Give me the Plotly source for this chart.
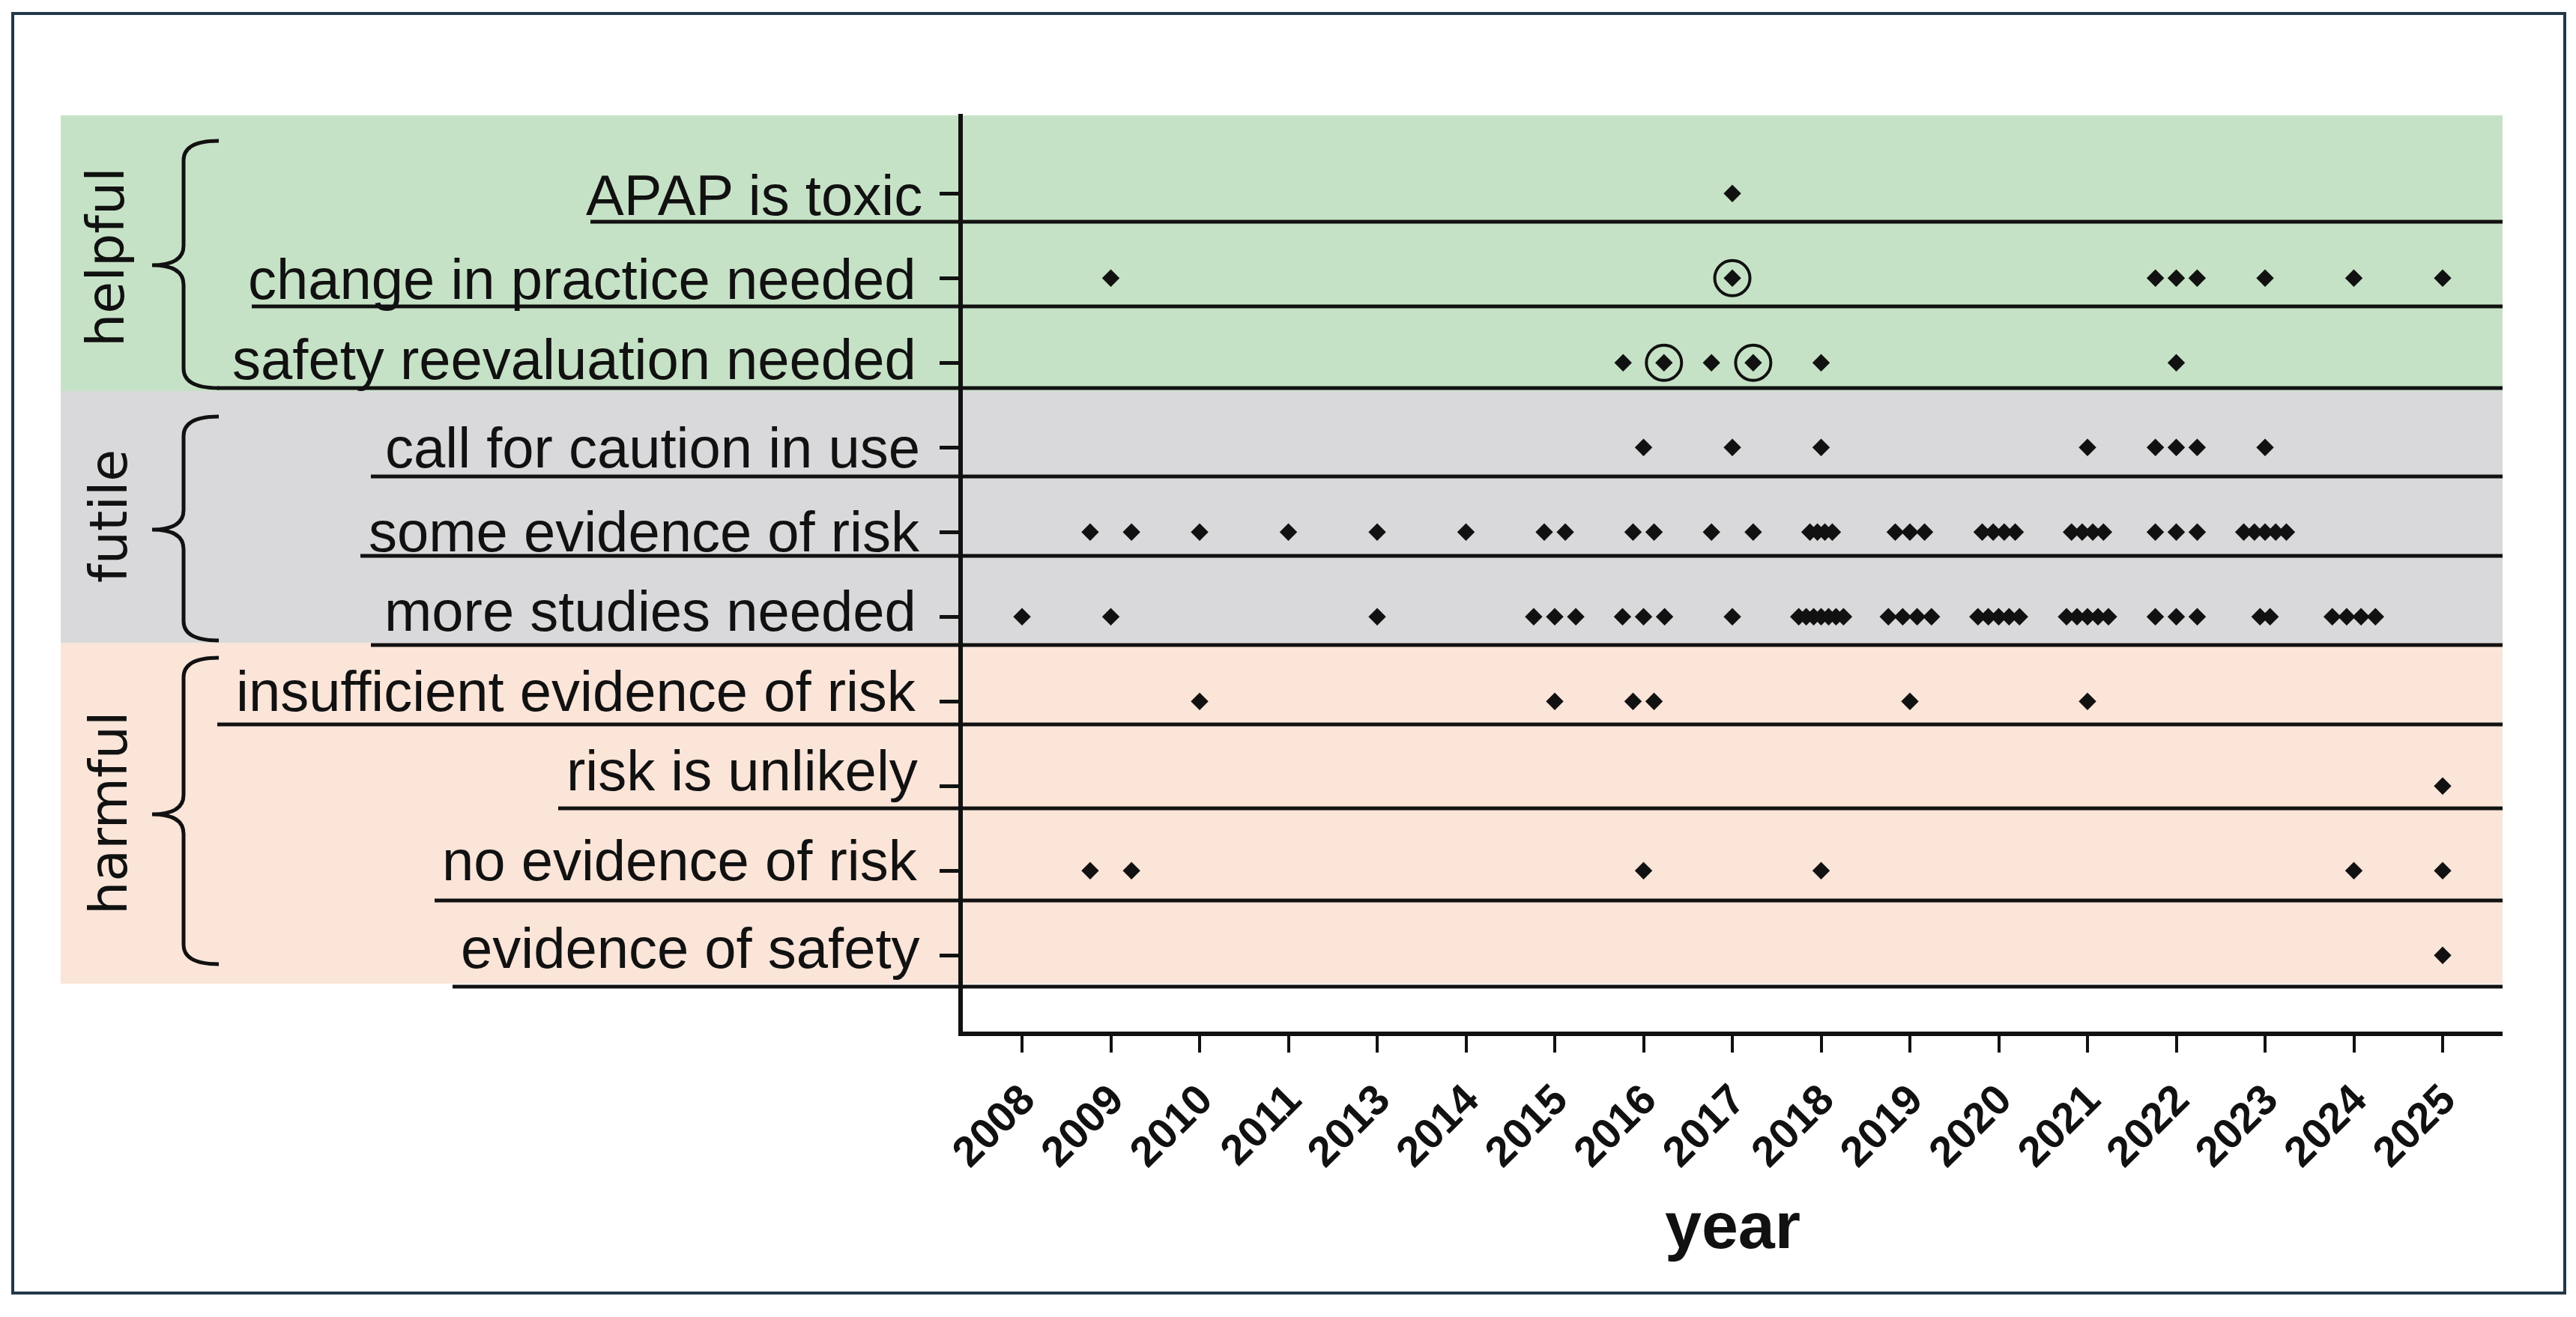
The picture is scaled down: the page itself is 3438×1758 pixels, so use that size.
import plotly.graph_objects as go

# ---------------- data ----------------
years = [2008, 2009, 2010, 2011, 2013, 2014, 2015, 2016, 2017,
         2018, 2019, 2020, 2021, 2022, 2023, 2024, 2025]
year_labels = [str(y) for y in years]

statements = ["APAP is toxic", "change in practice needed", "safety reevaluation needed",
              "call for caution in use", "some evidence of risk", "more studies needed",
              "insufficient evidence of risk", "risk is unlikely", "no evidence of risk",
              "evidence of safety"]
groups = ["helpful", "futile", "harmful"]

# each entry: (year, number of papers, spacing between side-by-side points in category units)
apap_is_toxic = [(2017, 1, 0)]
change_in_practice_needed = [(2009, 1, 0), (2017, 1, 0), (2022, 3, 0.235), (2023, 1, 0),
                             (2024, 1, 0), (2025, 1, 0)]
safety_reevaluation_needed = [(2016, 2, 0.46), (2017, 2, 0.47), (2018, 1, 0), (2022, 1, 0)]
call_for_caution_in_use = [(2016, 1, 0), (2017, 1, 0), (2018, 1, 0), (2021, 1, 0),
                           (2022, 3, 0.235), (2023, 1, 0)]
some_evidence_of_risk = [(2009, 2, 0.466), (2010, 1, 0), (2011, 1, 0), (2013, 1, 0), (2014, 1, 0),
                         (2015, 2, 0.237), (2016, 2, 0.237), (2017, 2, 0.47), (2018, 4, 0.084),
                         (2019, 3, 0.165), (2020, 4, 0.124), (2021, 4, 0.12), (2022, 3, 0.236),
                         (2023, 5, 0.12)]
more_studies_needed = [(2008, 1, 0), (2009, 1, 0), (2013, 1, 0), (2015, 3, 0.237), (2016, 3, 0.237),
                       (2017, 1, 0), (2018, 7, 0.084), (2019, 4, 0.162), (2020, 5, 0.117),
                       (2021, 5, 0.118), (2022, 3, 0.236), (2023, 2, 0.113), (2024, 4, 0.162)]
insufficient_evidence_of_risk = [(2010, 1, 0), (2015, 1, 0), (2016, 2, 0.237), (2019, 1, 0),
                                 (2021, 1, 0)]
risk_is_unlikely = [(2025, 1, 0)]
no_evidence_of_risk = [(2009, 2, 0.466), (2016, 1, 0), (2018, 1, 0), (2024, 1, 0), (2025, 1, 0)]
evidence_of_safety = [(2025, 1, 0)]

row_data = [apap_is_toxic, change_in_practice_needed, safety_reevaluation_needed,
            call_for_caution_in_use, some_evidence_of_risk, more_studies_needed,
            insufficient_evidence_of_risk, risk_is_unlikely, no_evidence_of_risk,
            evidence_of_safety]

# highlighted (circled) papers: (statement, year, position within that year's group)
circled = [("change in practice needed", 2017, 0),
           ("safety reevaluation needed", 2016, 1),
           ("safety reevaluation needed", 2017, 1)]

# ---------------- layout geometry (page pixels) ----------------
W, H = 3438, 1758
L, R, T, B = 1285, 98, 152, 381
PW, PH = W - L - R, H - T - B
BODY = 8  # default page margin of the html body


def px(x):
    return (x - L) / PW


def py(y):
    return (H - B - y) / PH


n_rows = len(statements)
row_y = {s: n_rows - i for i, s in enumerate(statements)}
year_idx = {y: i for i, y in enumerate(years)}

xs, ys = [], []
cx, cy = [], []
for s, entries in zip(statements, row_data):
    for (yr, n, step) in entries:
        for k in range(n):
            x = year_idx[yr] + (k - (n - 1) / 2) * step
            xs.append(x)
            ys.append(row_y[s])
            if (s, yr, k) in circled:
                cx.append(x)
                cy.append(row_y[s])

fig = go.Figure()
fig.add_trace(go.Scatter(x=xs, y=ys, mode="markers",
                         marker=dict(symbol="diamond", size=18, color="#111111"),
                         cliponaxis=False, showlegend=False, hoverinfo="skip"))
fig.add_trace(go.Scatter(x=cx, y=cy, mode="markers",
                         marker=dict(symbol="circle-open", size=47, color="#111111",
                                     line=dict(width=4, color="#111111")),
                         cliponaxis=False, showlegend=False, hoverinfo="skip"))

shapes = []
# background bands
bands = [(154, 522, "#c6e2c6"), (522, 858, "#d9d9db"), (858, 1313, "#fbe4d8")]
for y0, y1, col in bands:
    shapes.append(dict(type="rect", xref="paper", yref="paper", x0=px(81), x1=px(3340),
                       y0=py(y1), y1=py(y0), fillcolor=col, line=dict(width=0), layer="below"))

# underlines below each statement
under_y = [296, 409, 518, 636, 742, 861, 967, 1079, 1202, 1317]
under_x0 = [788, 336, 290, 495, 481, 495, 290, 745, 580, 604]
for yy, x0 in zip(under_y, under_x0):
    shapes.append(dict(type="line", xref="paper", yref="paper", x0=px(x0), x1=px(3340),
                       y0=py(yy), y1=py(yy), line=dict(color="#111111", width=5), layer="above"))


# curly braces
def brace(top, bottom, cusp, xl=245, xr=292, xc=203, r=26):
    return (f"M{px(xr)},{py(top)} Q{px(xl)},{py(top)} {px(xl)},{py(top + r)} "
            f"L{px(xl)},{py(cusp - r)} Q{px(xl)},{py(cusp)} {px(xc)},{py(cusp)} "
            f"Q{px(xl)},{py(cusp)} {px(xl)},{py(cusp + r)} "
            f"L{px(xl)},{py(bottom - r)} Q{px(xl)},{py(bottom)} {px(xr)},{py(bottom)}")


brace_pos = [(188, 518, 354), (556, 855, 707), (878, 1287, 1087)]
for top, bot, cusp in brace_pos:
    shapes.append(dict(type="path", xref="paper", yref="paper", path=brace(top, bot, cusp),
                       line=dict(color="#111111", width=5), layer="above"))

# outer frame
shapes.append(dict(type="rect", xref="paper", yref="paper", x0=px(17), x1=px(3423),
                   y0=py(1726), y1=py(18), line=dict(color="#22384a", width=4),
                   fillcolor="rgba(0,0,0,0)", layer="above"))

annotations = []
label_right = [1233, 1225, 1225, 1230, 1230, 1225, 1225, 1227, 1227, 1230]
label_mid = [261, 372, 479, 597, 709, 815, 922, 1029, 1148, 1265]
for s, xr_, ym in zip(statements, label_right, label_mid):
    annotations.append(dict(text=s, xref="paper", yref="paper", x=px(xr_), y=py(ym),
                            xanchor="right", yanchor="middle", showarrow=False,
                            font=dict(family="Liberation Sans, Arial, sans-serif", size=76,
                                      color="#111111")))

group_pos = [(141, 343), (145, 689), (145, 1086)]
for g, (gx, gy) in zip(groups, group_pos):
    annotations.append(dict(text=g, xref="paper", yref="paper", x=px(gx), y=py(gy),
                            xanchor="center", yanchor="middle", textangle=-90, showarrow=False,
                            font=dict(family="DejaVu Sans, Verdana, sans-serif", size=70,
                                      color="#111111")))

fig.update_layout(
    width=W - BODY, height=H - BODY,
    margin=dict(l=L - BODY, r=R, t=T - BODY, b=B, autoexpand=False),
    paper_bgcolor="white", plot_bgcolor="rgba(0,0,0,0)",
    shapes=shapes, annotations=annotations,
    xaxis=dict(range=[-0.667, 16.675], tickmode="array", tickvals=list(range(len(years))),
               ticktext=year_labels, tickangle=-45, ticks="outside", ticklen=22, tickwidth=4,
               tickcolor="#111111", showline=True, linewidth=6, linecolor="#111111",
               showgrid=False, zeroline=False, ticklabelstandoff=6,
               tickfont=dict(family="Liberation Sans, Arial, sans-serif", size=57,
                             color="#111111", weight="bold"),
               title=dict(text="year", standoff=38,
                          font=dict(family="Liberation Sans, Arial, sans-serif", size=88,
                                    color="#111111", weight="bold"))),
    yaxis=dict(range=[0.1, 10.94], tickmode="array", tickvals=list(range(1, n_rows + 1)),
               showticklabels=False, ticks="outside", ticklen=25, tickwidth=5,
               tickcolor="#111111", showline=True, linewidth=6, linecolor="#111111",
               showgrid=False, zeroline=False),
)

fig.write_html("out.html")
